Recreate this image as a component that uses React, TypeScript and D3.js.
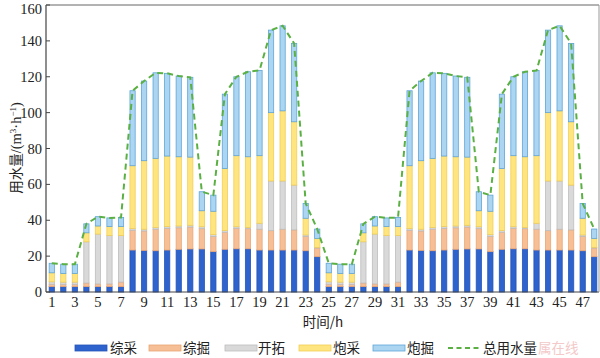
import React from "react";
import * as d3 from "d3";

const hours = d3.range(1, 49);
// 综采
const zongcai = [3, 3, 3, 3, 3, 3, 3, 23.4, 23.2, 23, 23.4, 23.8, 24, 24, 22.5, 23.8, 24.1, 24.1, 23.4, 23.4, 23.4, 23.4, 23, 19.7,
  3, 3, 3, 3, 3, 3, 3, 23.4, 23.2, 23, 23.4, 23.8, 24, 24, 22.5, 23.8, 24.1, 24.1, 23.4, 23.4, 23.4, 23.4, 23, 19.7];
// 综掘
const zongjue = [1.3, 1.2, 1.2, 2, 1.5, 1.5, 2.5, 11, 10.8, 12, 12.1, 12, 12.2, 11.3, 8.5, 9.5, 11.4, 11.2, 11.6, 10.8, 11.6, 11.2, 8, 4.8,
  1.3, 1.2, 1.2, 2, 1.5, 1.5, 2.5, 11, 10.8, 12, 12.1, 12, 12.2, 11.3, 8.5, 9.5, 11.4, 11.2, 11.6, 10.8, 11.6, 11.2, 8, 4.8];
// 开拓
const kaituo = [1.4, 1.3, 1.3, 23, 27.8, 27, 26, 1, 1, 1, 1, 1, 1, 1.1, 1, 1, 0.9, 0.7, 3.3, 27.7, 26.9, 25, 0.8, 0.4,
  1.4, 1.3, 1.3, 23, 27.8, 27, 26, 1, 1, 1, 1, 1, 1, 1.1, 1, 1, 0.9, 0.7, 3.3, 27.7, 26.9, 25, 0.8, 0.4];
// 炮采
const paocai = [5, 4.8, 4.8, 5, 4.5, 5, 5, 35, 38.2, 38.5, 39.3, 38.6, 38, 8.9, 13, 34.5, 39.6, 39.4, 37.7, 38.1, 39.1, 35.3, 9.3, 5,
  5, 4.8, 4.8, 5, 4.5, 5, 5, 35, 38.2, 38.5, 39.3, 38.6, 38, 8.9, 13, 34.5, 39.6, 39.4, 37.7, 38.1, 39.1, 35.3, 9.3, 5];
// 炮掘
const paojue = [5.3, 5.2, 5.2, 5, 5.2, 4.8, 5, 41.8, 44.4, 47.7, 46.1, 45, 44.5, 10.6, 9, 41.5, 44, 47.4, 47.5, 46, 47.4, 43.7, 8.3, 5.2,
  5.3, 5.2, 5.2, 5, 5.2, 4.8, 5, 41.8, 44.4, 47.7, 46.1, 45, 44.5, 10.6, 9, 41.5, 44, 47.4, 47.5, 46, 47.4, 43.7, 8.3, 5.2];

const seriesNames = ["综采", "综掘", "开拓", "炮采", "炮掘"];
const lineName = "总用水量";
const yTicks = [0, 20, 40, 60, 80, 100, 120, 140, 160];
const xTickLabels = d3.range(1, 49, 2);

const fills = ["#2e62cc", "#f7bf95", "#d9d9d9", "#ffe57f", "#acd5f2"];
const strokes = ["#2455b8", "#e9a675", "#bdbdbd", "#f2cf55", "#5ea5d8"];

const W = 600, H = 358;
const left = 46, right = 600, top = 5, bottom = 292;
const serif = "'Liberation Serif', 'Times New Roman', serif";
const cjk = "'Noto Sans CJK SC', sans-serif";

export default function App() {
  const x = d3.scaleBand<number>().domain(hours).range([left, right]).paddingInner(0.46).paddingOuter(0.23);
  const y = d3.scaleLinear().domain([0, 160]).range([bottom, top]);
  const rows = hours.map((h, i) => ({
    h,
    v0: zongcai[i], v1: zongjue[i], v2: kaituo[i], v3: paocai[i], v4: paojue[i],
  }));
  const stack = d3.stack<any>().keys(["v0", "v1", "v2", "v3", "v4"])(rows);
  const totals = rows.map((r) => r.v0 + r.v1 + r.v2 + r.v3 + r.v4);
  const line = d3.line<number>()
    .x((_, i) => (x(hours[i]) as number) + x.bandwidth() / 2)
    .y((d) => y(d));

  const legendItems = [
    { sx: 75, tx: 110 },
    { sx: 149, tx: 183 },
    { sx: 225, tx: 258 },
    { sx: 299, tx: 333 },
    { sx: 373, tx: 407 },
  ];
  const ly = 348;

  return (
    <svg width={W} height={H} style={{ position: "absolute", left: 0, top: 0, background: "#fff" }}>
      {stack.map((layer, k) => (
        <g key={k}>
          {layer.map((d, i) => (
            <rect
              key={i}
              x={(x(hours[i]) as number) + 0.5}
              y={y(d[1])}
              width={x.bandwidth() - 1}
              height={Math.max(0, y(d[0]) - y(d[1]))}
              fill={fills[k]}
              stroke={strokes[k]}
              strokeWidth={0.8}
            />
          ))}
        </g>
      ))}
      <path d={line(totals) || ""} fill="none" stroke="#5bb043" strokeWidth={2} strokeDasharray="6,4" />
      {/* frame */}
      <line x1={left} x2={left} y1={top} y2={bottom} stroke="#444" strokeWidth={1.2} />
      <line x1={left} x2={599} y1={bottom} y2={bottom} stroke="#444" strokeWidth={1.2} />
      <line x1={left} x2={599} y1={top} y2={top} stroke="#666" strokeWidth={1} />
      <line x1={599} x2={599} y1={top} y2={bottom} stroke="#999" strokeWidth={1} />
      {yTicks.map((t) => (
        <g key={t}>
          <line x1={left} x2={left + 4} y1={y(t)} y2={y(t)} stroke="#444" />
          <text x={42} y={Math.max(y(t), 9)} dy="0.35em" textAnchor="end" fontFamily={serif} fontSize={14.5} fill="#222">
            {t}
          </text>
        </g>
      ))}
      {xTickLabels.map((h) => (
        <text key={h} x={(x(h) as number) + x.bandwidth() / 2} y={307} textAnchor="middle" fontFamily={serif} fontSize={14.5} fill="#222">
          {h}
        </text>
      ))}
      <text x={323} y={327} textAnchor="middle" fontFamily={cjk} fontSize={13.5} fill="#222">
        时间/h
      </text>
      <text transform="translate(21,148) rotate(-90)" textAnchor="middle" fontSize={13.5} fill="#222">
        <tspan fontFamily={cjk}>用水量</tspan>
        <tspan fontFamily={serif} fontSize={14.5}>/(m</tspan>
        <tspan fontFamily={serif} fontSize={9} dy={-5}>3</tspan>
        <tspan fontFamily={serif} fontSize={14.5} dy={5}>·h</tspan>
        <tspan fontFamily={serif} fontSize={9} dy={-5}>−1</tspan>
        <tspan fontFamily={serif} fontSize={14.5} dy={5}>)</tspan>
      </text>
      {legendItems.map((it, k) => (
        <g key={k}>
          <rect x={it.sx} y={ly - 3} width={32} height={6} fill={fills[k]} stroke={strokes[k]} strokeWidth={0.8} />
          <text x={it.tx} y={ly} dy="0.35em" fontFamily={cjk} fontSize={13.5} fill="#222">
            {seriesNames[k]}
          </text>
        </g>
      ))}
      <line x1={448} x2={481} y1={ly} y2={ly} stroke="#5bb043" strokeWidth={2} strokeDasharray="5,3.5" />
      <text x={483} y={ly} dy="0.35em" fontFamily={cjk} fontSize={13.5} fill="#222">
        {lineName}
      </text>
      <text x={538} y={ly} dy="0.35em" fontFamily={cjk} fontSize={13.5} fill="#f3c9c9">
        属在线
      </text>
    </svg>
  );
}
